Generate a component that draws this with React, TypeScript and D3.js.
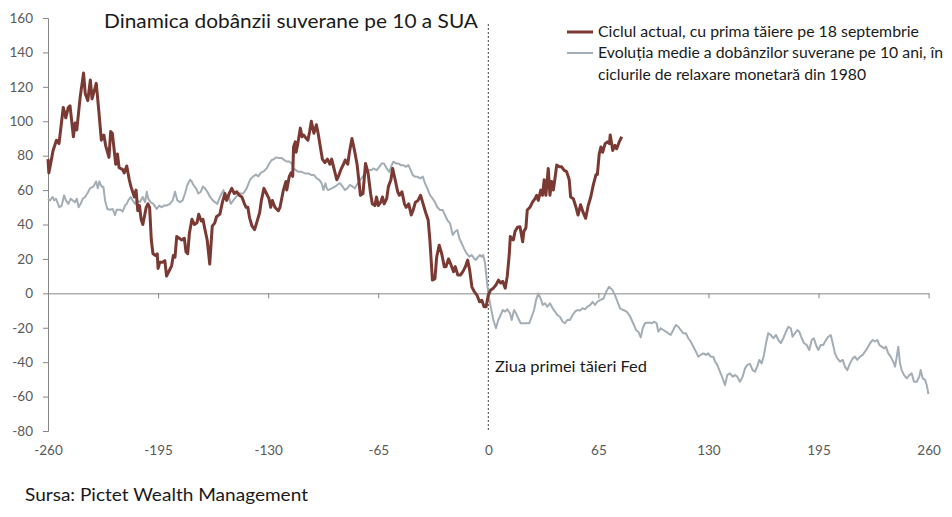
import * as d3 from "d3";
import { useEffect, useRef } from "react";

// y values in basis points, x in trading days around the first Fed cut
const yTicks = [-80, -60, -40, -20, 0, 20, 40, 60, 80, 100, 120, 140, 160];
const xTicks = [-260, -195, -130, -65, 0, 65, 130, 195, 260];

const currentCycle: [number, number][] = [
    [-260, 78], [-259.5, 70], [-258.5, 75], [-257, 83], [-255, 89], [-253.5, 87], [-251, 108], [-249.5, 102],
    [-248, 108], [-247, 109], [-245, 91], [-244, 99], [-243, 95], [-241, 114], [-239, 128], [-238, 116],
    [-236.5, 112], [-235, 124], [-234, 113], [-231.5, 122], [-230, 106], [-228.5, 89], [-227, 92], [-226, 86],
    [-224, 79], [-223, 94], [-222, 93], [-220, 75], [-219, 81], [-218, 73], [-216, 72], [-215, 70],
    [-213.5, 74], [-212, 66], [-211, 62], [-209, 56], [-208, 60], [-207, 48], [-206, 51], [-205, 43],
    [-204, 40], [-202, 50], [-201, 52], [-200, 50], [-199, 31], [-198, 23], [-196.5, 22], [-195.5, 23],
    [-195, 14.5], [-194, 18], [-192.5, 18], [-191, 19], [-190, 10], [-188.5, 13], [-187, 16], [-186, 22],
    [-185, 21], [-184, 33], [-182.5, 32], [-181, 31], [-179.5, 32], [-178.5, 24], [-177.5, 23], [-176.5, 35],
    [-175, 43], [-173.5, 40], [-172, 41], [-171, 46], [-169.5, 42], [-168.5, 43], [-167.5, 38], [-166, 31],
    [-164.5, 17], [-163, 39], [-161.5, 41], [-160.5, 44.5], [-158.5, 46], [-157, 53], [-155.5, 58], [-154.5, 54],
    [-153, 58], [-151.5, 61], [-150, 58], [-148.5, 59], [-147, 57], [-145.5, 56], [-144, 52], [-143, 50],
    [-142, 50], [-141, 44], [-139.5, 39], [-138, 37], [-136.5, 42], [-135, 47], [-134, 54], [-132.5, 61],
    [-131, 58], [-129.5, 55], [-128.5, 50], [-127.5, 54], [-126, 50], [-124, 48], [-123, 50], [-121, 60],
    [-119.5, 65], [-119, 60], [-117.5, 68], [-116.5, 70], [-115.5, 68], [-115, 85], [-114, 88], [-113.5, 82],
    [-112.5, 87], [-111, 96], [-110, 91], [-109, 92], [-107.5, 90], [-106.5, 89], [-105.5, 94], [-104.5, 100],
    [-103, 93], [-101.5, 98], [-100.5, 93], [-99, 84], [-98, 78], [-96.5, 76], [-95, 78], [-93.5, 75],
    [-92.5, 78], [-91, 72], [-89.5, 66], [-88.5, 68], [-87, 72], [-85.5, 75], [-84.5, 77.5], [-83, 75],
    [-82, 82], [-80.5, 90], [-79, 83], [-77.5, 75], [-76.5, 66], [-75.5, 57], [-74, 58], [-72.5, 75.5],
    [-71, 70], [-69.5, 58], [-68.5, 52], [-67, 51], [-66, 56], [-65, 51], [-63.5, 53], [-62.5, 56],
    [-61.5, 52], [-60, 55], [-59, 62], [-57.5, 66], [-56.5, 72.6], [-55, 66], [-53.5, 59], [-52.5, 57],
    [-51, 59], [-49.5, 52], [-48.5, 50], [-47, 52], [-45.5, 45.5], [-44.5, 48], [-43, 53], [-41.5, 54],
    [-40, 57], [-38.5, 52], [-37, 47], [-35.5, 42.6], [-34.5, 31], [-33, 7.7], [-31.5, 8.5], [-30.5, 21],
    [-29, 28], [-27.5, 23], [-26, 15.5], [-25, 15.5], [-23.5, 20], [-22, 16.5], [-20.5, 12.6], [-19.5, 15.5],
    [-18, 10.6], [-16.5, 10.6], [-15, 12.6], [-13.5, 15.5], [-12.2, 19.3], [-11, 13.5], [-9.7, 3.8], [-8.3, 1],
    [-6.7, -1], [-5.2, -4.9], [-3.8, -4], [-2.5, -7.8], [-1.3, -7.8], [0, -1], [1.4, 2], [3, 3],
    [4.5, 4.8], [6, 7.7], [7.3, 6], [8.5, 7], [10, 3], [11.2, 10], [12.4, 23], [13, 33],
    [14.8, 31], [15.8, 36], [17.2, 38.4], [18.7, 38.7], [20.3, 30], [21, 36], [22.2, 38], [23, 48.4],
    [24.6, 50], [26.1, 53], [27.6, 55], [28.6, 57], [29.5, 54], [31, 60], [32, 57], [33, 66],
    [34, 57], [35.4, 72.6], [36.4, 57], [37.4, 65], [38.4, 60], [39.4, 67], [40.4, 74.5], [42, 73.5],
    [43.3, 73.5], [44.7, 71.6], [46.3, 70.6], [47.8, 66], [48.6, 56], [50.2, 55], [51.8, 50], [53, 45.5],
    [54.5, 51.5], [56, 47], [57.5, 43.6], [59, 51], [60.5, 56], [62, 63], [63.6, 69], [64.4, 69],
    [65.5, 81], [66.5, 85], [67.5, 82], [69, 87], [70.3, 88], [71.5, 87], [72, 92], [73.5, 83],
    [74.8, 86], [75.8, 84], [77.3, 88], [78.8, 91],
];

const averageCycle: [number, number][] = [
    [-260, 55], [-258.8, 54], [-257.2, 56], [-256.3, 54], [-255.3, 55], [-254.5, 53], [-253.3, 50], [-251.9, 51],
    [-250.5, 57], [-249.4, 54], [-248, 52], [-246.6, 55], [-245.4, 54], [-244, 53], [-243, 55], [-241.9, 50],
    [-240.7, 52], [-239.5, 55], [-238.1, 56], [-236.8, 58], [-235.2, 61], [-233.2, 62], [-231.6, 65], [-230.6, 61],
    [-229.7, 65], [-228.3, 62], [-227.3, 62], [-226.3, 54], [-225, 49], [-223.4, 48.6], [-221.8, 49], [-220.4, 45.5],
    [-219.4, 48.6], [-217.5, 48.6], [-215.9, 47.6], [-214.5, 51], [-213.5, 52], [-212.6, 54], [-211.2, 56], [-210, 54],
    [-208.6, 52], [-207.3, 54], [-205.7, 53], [-204.1, 56], [-202.7, 53], [-201.7, 59], [-200.8, 55], [-199.4, 53],
    [-197.8, 52], [-195.8, 49], [-194.3, 51], [-192.9, 50], [-191.5, 51], [-190, 51], [-188, 52], [-186.4, 54],
    [-185, 59], [-183.6, 54], [-182, 53], [-180.5, 54], [-179.1, 58], [-177.7, 63], [-176.1, 66], [-175.1, 65],
    [-174.2, 63], [-172.6, 61], [-171.2, 58], [-169.8, 59], [-168.6, 62], [-167.3, 61], [-165.9, 59], [-164.3, 56],
    [-162.7, 54], [-161.4, 53], [-160, 52], [-158.4, 56], [-157.4, 58], [-156.4, 60], [-154.9, 55], [-153.5, 57],
    [-152.1, 52], [-150.6, 54], [-149, 56], [-147.6, 58], [-146.6, 58], [-144.7, 58], [-142.7, 61], [-140.7, 66],
    [-138.8, 68], [-137.2, 69], [-135.8, 68], [-134.4, 70], [-132.5, 71], [-130.9, 72.6], [-129.3, 75.5], [-127.9, 77.5],
    [-126.5, 78], [-125.4, 79], [-123.4, 78.6], [-122, 78.6], [-120.6, 77.5], [-119, 76.6], [-117.5, 76.6], [-116.1, 75.5],
    [-115.1, 72.6], [-113.6, 71.6], [-112.2, 70.6], [-110.2, 70.6], [-108.2, 69.7], [-106.3, 69.7], [-104.3, 68.7], [-102.9, 68.7],
    [-101.3, 66.8], [-99.8, 65.9], [-98.4, 63.9], [-97.4, 60], [-96.2, 64], [-95.4, 61], [-94.5, 60], [-92.5, 61],
    [-90.5, 62], [-89.2, 63], [-87.6, 64], [-86, 62], [-84.6, 60], [-83.3, 61], [-81.7, 63], [-80.1, 62],
    [-78.7, 61], [-77.7, 63], [-76.2, 65], [-74.8, 67], [-73.4, 68.7], [-71.8, 70.6], [-70.3, 71.6], [-68.9, 71.6],
    [-67.9, 72.6], [-65.9, 71.6], [-64.4, 73.5], [-62.9, 75.5], [-61.6, 75.5], [-60, 72.6], [-58.5, 70.6], [-57, 74.5],
    [-56.1, 76.5], [-54.5, 75.5], [-53.1, 75.5], [-51.7, 74.5], [-50.2, 74.5], [-48.6, 73.5], [-47.2, 74.5], [-45.8, 71.6],
    [-44.6, 68.7], [-43.3, 67.8], [-41.9, 67.8], [-40.3, 66.8], [-38.7, 67.8], [-37.4, 64], [-36, 61], [-34.4, 57],
    [-32.8, 55], [-31.5, 53], [-30.1, 50], [-28.5, 48.4], [-26.9, 48.4], [-25.6, 45.5], [-24.2, 42.6], [-22.6, 40.7],
    [-21, 33.9], [-19.7, 35.8], [-18.3, 36.8], [-17.1, 32], [-15.7, 29], [-14.3, 26], [-12.8, 23.2], [-11.2, 21.3],
    [-9.8, 22.3], [-8.4, 20.3], [-7.3, 19.4], [-5.9, 21.3], [-4.9, 22.3], [-3.9, 21.3], [-3, 22.3], [-1.9, 17.4],
    [-0.9, 7.7], [0, 0], [1.4, -7.8], [3, -15.5], [4.5, -20.3], [5.9, -15.5], [7.3, -12.6], [8.5, -9.7],
    [9.9, -10.6], [11.2, -9.3], [12.8, -11.6], [13.8, -15.5], [15.2, -9.7], [16.4, -11.6], [17.7, -14.5], [19.1, -17.4],
    [20.7, -17.4], [22.7, -17.4], [24.2, -17.4], [25.6, -13.6], [27, -9.7], [28.2, -3.9], [29.5, 0], [30.9, -2.9],
    [32.1, -6.8], [33.5, -5.8], [34.8, -7.8], [36.4, -5.8], [38, -8.7], [39.4, -10.6], [40.7, -12.6], [42.3, -13.6],
    [43.9, -16.5], [45.3, -17.4], [46.6, -15.5], [48.2, -15.5], [49.8, -12.6], [51.2, -10.6], [52.6, -9.7], [54.1, -10],
    [55.7, -8.7], [57.1, -9.3], [58.5, -7.8], [60.1, -6.8], [61.6, -4.9], [63, -6.8], [64.4, -4.9], [66, -3.9],
    [68, -3], [69.7, 1], [71.3, 3.8], [73.2, 2], [74.8, -1], [76.3, -4.9], [77.8, -8.7], [79.7, -9.7],
    [81.7, -10.6], [83.3, -12.6], [84.7, -15.5], [86, -18.4], [87.2, -21.3], [88.6, -22.3], [90, -25.6], [91.2, -20.3],
    [92.5, -17.4], [94.5, -17], [96.5, -17.4], [97.8, -16.5], [99.4, -17.4], [100.4, -22.3], [101.8, -20.3], [103.3, -21.3],
    [104.9, -22.3], [106.3, -23.2], [107.7, -24.2], [109.2, -21.3], [110.8, -18.4], [112.2, -19.4], [113.6, -21.3], [115.1, -23.2],
    [116.7, -23.2], [118.1, -26.1], [119.5, -28], [121.1, -31], [122.6, -33.9], [124, -36.8], [125.4, -35.8], [127, -34.9],
    [128.6, -35.8], [129.9, -34.9], [131.3, -36.8], [132.9, -36.8], [133.9, -39.7], [135.2, -41.6], [136.8, -45.5], [138.4, -49.4],
    [139.8, -53.3], [141.1, -47.5], [142.7, -46.5], [144.3, -48.4], [145.7, -47.5], [147, -48.4], [148.6, -51.4], [150.2, -48.4],
    [151.6, -43.6], [152.9, -41.6], [154.5, -41], [156.1, -44.6], [157.5, -45.5], [158.8, -42.6], [160, -38.7], [161.4, -40.7],
    [162.8, -35.8], [164, -29], [165.3, -23.2], [166.8, -24.2], [168.3, -26.1], [169.9, -24.2], [171.2, -27.1], [172.7, -29],
    [174.2, -26.1], [175.8, -22.3], [177.2, -19.4], [178.6, -20.3], [179.7, -25.2], [181.1, -23.2], [182.5, -21.3], [183.6, -22.3],
    [185.1, -26.1], [186.4, -29], [188, -30], [189.5, -32.9], [191, -27.1], [192.3, -26.1], [193.5, -30], [194.9, -32.9],
    [196.3, -30], [197.8, -30], [199.4, -27.1], [200.8, -25.2], [202.2, -24.2], [203.4, -29], [204.7, -34.9], [206.1, -37.8],
    [207.7, -39.7], [209.3, -38.7], [210.6, -42.6], [212, -44.6], [213.6, -40.7], [215.2, -37.8], [216.5, -36.8], [217.9, -38.7],
    [219.5, -36.8], [221.1, -35.8], [222.4, -33.9], [223.8, -32], [225.4, -29], [227, -27.1], [228.3, -28], [229.7, -27.1],
    [230.9, -30], [232.3, -31], [233.7, -32], [234.8, -31], [236.2, -34.9], [237.6, -36.8], [239.1, -39.7], [240.2, -42.6],
    [241.2, -36.8], [242.1, -31], [243.1, -40.7], [244.1, -44.6], [245.5, -47.5], [247.1, -49.4], [248.6, -47.5], [250, -46.5],
    [251.4, -51.4], [253, -51.4], [254.5, -48.4], [255.3, -44.6], [256.5, -49.4], [257.9, -50.3], [258.9, -53.3], [259.8, -58.1],
    [260, -58.5],
];

const title = "Dinamica dobânzii suverane pe 10 a SUA";
const legendCurrent = "Ciclul actual, cu prima tăiere pe 18 septembrie";
const legendAverage = ["Evoluția medie a dobânzilor suverane pe 10 ani, în", "ciclurile de relaxare monetară din 1980"];
const cutLabel = "Ziua primei tăieri Fed";
const source = "Sursa: Pictet Wealth Management";

const WIDTH = 952;
const HEIGHT = 517;
const BROWN = "#7a3a33";
const GREY = "#a3adb5";
const FONT = "Lato, 'Open Sans', sans-serif";

export default function App() {
    const svgRef = useRef<SVGSVGElement | null>(null);

    useEffect(() => {
        if (!svgRef.current) return;
        const svg = d3.select(svgRef.current);
        svg.selectAll("*").remove();

        const x = d3.scaleLinear().domain([-260, 260]).range([48, 928.6]);
        const y = d3.scaleLinear().domain([-80, 160]).range([431, 18]);
        const plain = (d: d3.NumberValue) => String(d); // hyphen minus, like the original

        // y axis
        const yAxis = svg
            .append("g")
            .attr("transform", "translate(48,0)")
            .call(d3.axisLeft(y).tickValues(yTicks).tickSize(5).tickPadding(10).tickFormat(plain));
        yAxis.select(".domain").attr("stroke", "#868686");
        yAxis.selectAll(".tick line").attr("stroke", "#868686");
        yAxis
            .selectAll("text")
            .attr("fill", "#595959")
            .style("font-size", "13.5px")
            .style("font-family", FONT);

        // x axis line through zero, ticks pointing down
        const xAxis = svg
            .append("g")
            .attr("transform", `translate(0,${y(0)})`)
            .call(d3.axisBottom(x).tickValues(xTicks).tickSize(5).tickSizeOuter(0).tickFormat(() => ""));
        xAxis.select(".domain").attr("stroke", "#868686");
        xAxis.selectAll(".tick line").attr("stroke", "#868686");

        // x labels sit at the bottom of the plot
        const xLabels = svg
            .append("g")
            .attr("transform", `translate(0,${y(-80)})`)
            .call(d3.axisBottom(x).tickValues(xTicks).tickSize(0).tickPadding(14).tickFormat(plain));
        xLabels.select(".domain").remove();
        xLabels
            .selectAll("text")
            .attr("fill", "#595959")
            .style("font-size", "13.5px")
            .style("font-family", FONT);

        // dotted marker for the first cut
        svg
            .append("line")
            .attr("x1", x(0))
            .attr("x2", x(0))
            .attr("y1", 24)
            .attr("y2", y(-80))
            .attr("stroke", "#404040")
            .attr("stroke-width", 1)
            .attr("stroke-dasharray", "2,2");

        const line = d3
            .line<[number, number]>()
            .x(d => x(d[0]))
            .y(d => y(d[1]));

        svg
            .append("path")
            .datum(averageCycle)
            .attr("fill", "none")
            .attr("stroke", GREY)
            .attr("stroke-width", 2)
            .attr("stroke-linejoin", "round")
            .attr("d", line);

        svg
            .append("path")
            .datum(currentCycle)
            .attr("fill", "none")
            .attr("stroke", BROWN)
            .attr("stroke-width", 3)
            .attr("stroke-linejoin", "round")
            .attr("d", line);

        // legend
        svg.append("line").attr("x1", 567).attr("x2", 593).attr("y1", 32).attr("y2", 32)
            .attr("stroke", BROWN).attr("stroke-width", 3);
        svg.append("line").attr("x1", 567).attr("x2", 593).attr("y1", 53).attr("y2", 53)
            .attr("stroke", GREY).attr("stroke-width", 2);

        const text = (t: string, tx: number, ty: number, size: number, len: number) =>
            svg
                .append("text")
                .attr("x", tx)
                .attr("y", ty)
                .attr("fill", "#1a1a1a")
                .style("font-family", FONT)
                .style("font-size", `${size}px`)
                .attr("textLength", len)
                .attr("lengthAdjust", "spacingAndGlyphs")
                .text(t);

        text(title, 104, 28, 18.5, 374);
        text(legendCurrent, 598, 37, 15.5, 321);
        text(legendAverage[0], 598, 58, 15.5, 345);
        text(legendAverage[1], 598, 80, 15.5, 268);
        text(cutLabel, 495, 372, 15.5, 152);
        text(source, 25, 501, 18, 283);
    }, []);

    return (
        <div style={{ position: "fixed", left: 0, top: 0, background: "#fff" }}>
            <svg ref={svgRef} width={WIDTH} height={HEIGHT} style={{ display: "block" }} />
        </div>
    );
}
